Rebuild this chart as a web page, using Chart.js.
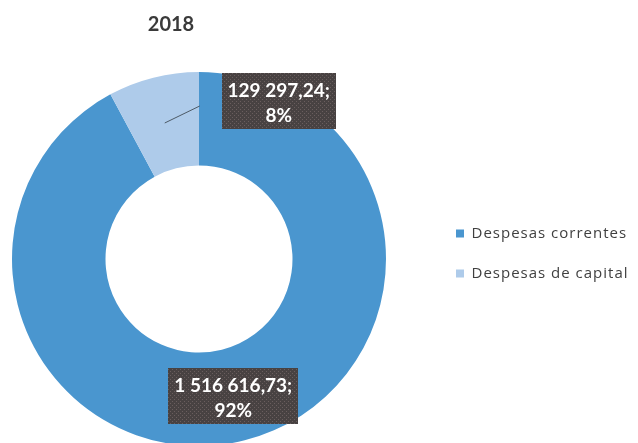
<!DOCTYPE html>
<html>
<head>
<meta charset="utf-8">
<script src="https://cdn.jsdelivr.net/npm/chart.js@4.4.1/dist/chart.umd.min.js"></script>
<style>
html,body{margin:0;padding:0;background:#ffffff;overflow:hidden}
#wrap{position:relative;width:638px;height:443px;overflow:hidden}
#c{position:absolute;left:-33px;top:0}
</style>
</head>
<body>
<div id="wrap"><canvas id="c" width="680" height="443"></canvas></div>
<script>
// ---- data ----
const chartTitle = '2018';
const categories = ['Despesas correntes', 'Despesas de capital'];
const values = [1516616.73, 129297.24];
const sliceColors = ['#4a96cf', '#aecbea'];

// ---- helpers ----
function fmtNumber(v) {
  const parts = v.toFixed(2).split('.');
  return parts[0].replace(/\B(?=(\d{3})+(?!\d))/g, ' ') + ',' + parts[1];
}
const total = values.reduce((a, b) => a + b, 0);

// ---- layout constants (canvas is shifted left by OFF px on the page) ----
const OFF = 33;
const CW = 680, H = 443;
const CX = 199 + OFF, CY = 259;    // donut centre in canvas coords
const OUTER_R = 187;
const LEG_FONT_SIZE = 15;
const LEG_FAMILY = '"Open Sans", sans-serif';
const LEG_LS = '1px';
const LEG_PAD = 25, LEG_BOX = 8;
const LEG_LEFT = 431 + OFF, LEG_TOP = 201;

const mc = document.createElement('canvas').getContext('2d');
mc.font = LEG_FONT_SIZE + 'px ' + LEG_FAMILY;
mc.letterSpacing = LEG_LS;
const textW = Math.max(...categories.map(t => mc.measureText(t).width));
const legendW = LEG_PAD + LEG_BOX + LEG_FONT_SIZE / 2 + textW + 10;
const padRight = Math.max(CW - LEG_LEFT - legendW, 0);
const padLeft = Math.max(2 * CX - LEG_LEFT, 0);
const padTop = LEG_TOP;
const padBottom = H - (2 * CY - LEG_TOP);

// label placement relative to slice centroid
const labelPlacement = [
  {dx: 0, dy: 1, leader: null},
  {dx: 114, dy: -21.5, leader: {x: 35, y: -17}}
];

// dotted dark pattern for label boxes
const pc = document.createElement('canvas');
pc.width = 4; pc.height = 4;
const pg = pc.getContext('2d');
pg.fillStyle = '#484242'; pg.fillRect(0, 0, 4, 4);
pg.fillStyle = '#6a5e5e'; pg.fillRect(1, 1, 1, 1); pg.fillRect(3, 3, 1, 1);

const spacingPlugin = {
  id: 'spacing',
  beforeLayout(chart) { chart.ctx.letterSpacing = LEG_LS; },
  beforeDraw(chart) { chart.ctx.letterSpacing = LEG_LS; }
};

const labelPlugin = {
  id: 'labels',
  afterDatasetsDraw(chart) {
    const ctx = chart.ctx;
    ctx.save();
    ctx.letterSpacing = '0px';
    // title
    ctx.font = 'bold 20px Lato, sans-serif';
    ctx.fillStyle = '#3a3a3a';
    ctx.textAlign = 'center';
    ctx.textBaseline = 'alphabetic';
    ctx.fillText(chartTitle, 171 + OFF, 31);

    const pattern = ctx.createPattern(pc, 'repeat');
    const meta = chart.getDatasetMeta(0);
    meta.data.forEach((arc, i) => {
      const p = arc.tooltipPosition();
      const pl = labelPlacement[i];
      if (pl.leader) {
        ctx.beginPath();
        ctx.moveTo(p.x, p.y);
        ctx.lineTo(p.x + pl.leader.x, p.y + pl.leader.y);
        ctx.strokeStyle = '#4d5a66';
        ctx.lineWidth = 1;
        ctx.stroke();
      }
      const bx = p.x + pl.dx, by = p.y + pl.dy;
      const lines = [fmtNumber(values[i]) + ';', Math.round(values[i] / total * 100) + '%'];
      ctx.font = 'bold 19px Lato, sans-serif';
      const w = Math.max(...lines.map(l => ctx.measureText(l).width)) + 12;
      const h = 56;
      ctx.fillStyle = pattern;
      ctx.fillRect(Math.round(bx - w / 2), Math.round(by - h / 2), Math.round(w), h);
      ctx.fillStyle = '#ffffff';
      ctx.fillText(lines[0], bx, by - 4.5);
      ctx.fillText(lines[1], bx, by + 21);
    });
    ctx.restore();
  }
};

new Chart(document.getElementById('c'), {
  type: 'doughnut',
  data: {
    labels: categories,
    datasets: [{
      data: values,
      backgroundColor: sliceColors,
      borderWidth: 0,
      clip: false
    }]
  },
  options: {
    responsive: false,
    animation: false,
    radius: OUTER_R,
    cutout: '50%',
    layout: { padding: { left: padLeft, right: padRight, top: padTop, bottom: padBottom } },
    plugins: {
      tooltip: { enabled: false },
      title: { display: false },
      legend: {
        position: 'right',
        align: 'start',
        labels: {
          font: { family: LEG_FAMILY, size: LEG_FONT_SIZE },
          color: '#404040',
          boxWidth: LEG_BOX,
          boxHeight: LEG_BOX,
          padding: LEG_PAD
        }
      }
    }
  },
  plugins: [spacingPlugin, labelPlugin]
});
</script>
</body>
</html>
